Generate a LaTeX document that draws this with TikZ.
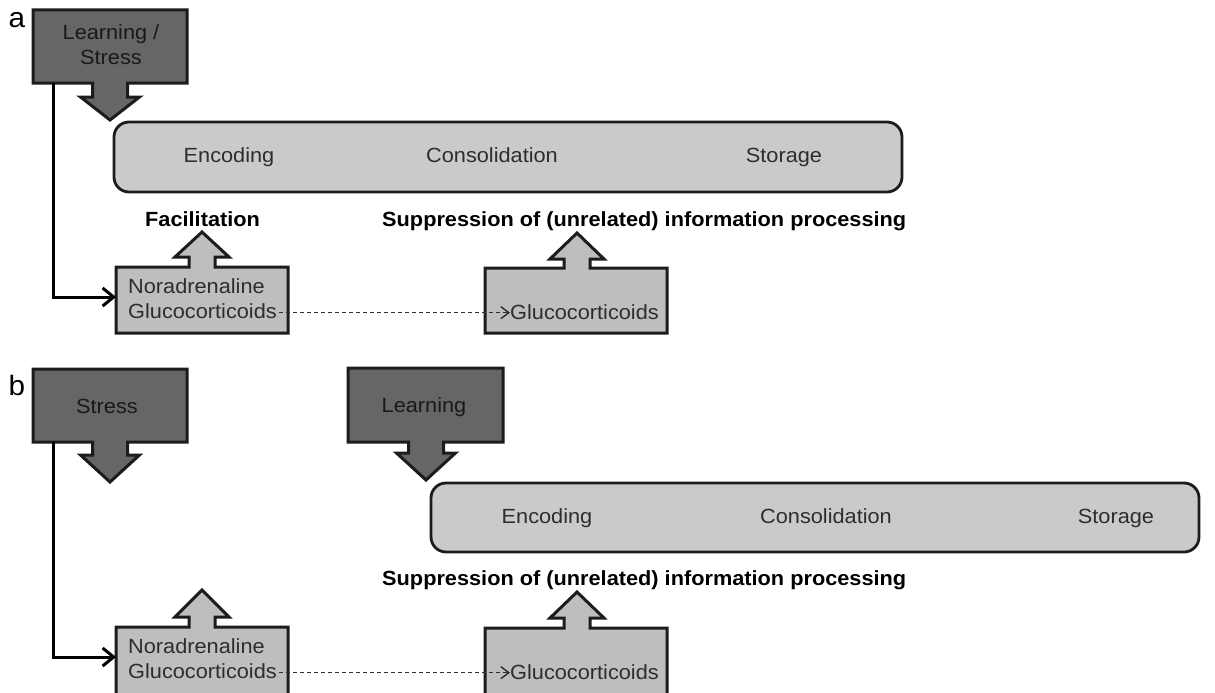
\documentclass[tikz,border=0pt]{standalone}
\usepackage{fontspec}
\setmainfont[FakeStretch=1.06]{Liberation Sans}
\usetikzlibrary{arrows.meta}
\definecolor{darkfill}{RGB}{102,102,102}
\definecolor{lightfill}{RGB}{190,190,190}
\definecolor{mainfill}{RGB}{202,202,202}
\definecolor{edgecol}{RGB}{28,28,28}
\definecolor{txtcol}{RGB}{45,45,45}
\tikzset{
  darkbox/.style={fill=darkfill, draw=edgecol, line width=3pt, line join=miter},
  lightbox/.style={fill=lightfill, draw=edgecol, line width=3pt, line join=miter},
  mainbox/.style={fill=mainfill, draw=edgecol, line width=2.8pt, rounded corners=15pt},
  region/.style={draw=none, inner sep=0pt, outer sep=0pt},
  txt/.style={font=\fontsize{20.5}{25}\selectfont, text=txtcol, inner sep=0pt},
  btxt/.style={font=\bfseries\fontsize{20.5}{25}\selectfont, text=black, inner sep=0pt},
  lbl/.style={font=\fontsize{28}{30}\selectfont, text=black, inner sep=0pt},
  solidconn/.style={line width=3pt, draw=black, -{Straight Barb[length=11pt, width=18pt, line width=3pt]}},
  dashconn/.style={draw=txtcol, line width=1.4pt, dash pattern=on 4pt off 3pt, -{Straight Barb[length=8pt, width=12pt, line width=1.4pt]}},
}
% down callout: x1 y1 x2 y2 cx base tip style
\newcommand\calldown[8]{%
  \path[#8] (#1,#2) -- (#3,#2) -- (#3,#4) -- ({#5+17.5},#4) -- ({#5+17.5},#6) -- ({#5+29.5},#6)
    -- (#5,#7) -- ({#5-29.5},#6) -- ({#5-17.5},#6) -- ({#5-17.5},#4) -- (#1,#4) -- cycle;}
% up callout: x1 y1 x2 y2 cx base tip style
\newcommand\callup[8]{%
  \path[#8] (#1,#4) -- (#3,#4) -- (#3,#2) -- ({#5+13},#2) -- ({#5+13},#6) -- ({#5+27},#6)
    -- (#5,#7) -- ({#5-27},#6) -- ({#5-13},#6) -- ({#5-13},#2) -- (#1,#2) -- cycle;}
\begin{document}
\begin{tikzpicture}[x=1pt, y=-1pt]
\useasboundingbox (0,0) rectangle (1215,693);
\clip (0,0) rectangle (1215,693);

% ---------------- panel a ----------------
\node[lbl, anchor=base] (la) at (17,28) {a};
\calldown{33}{10}{187}{83}{110}{97}{120}{darkbox}
\node[region, minimum width=154pt, minimum height=73pt] (ls) at (110,46.5) {};
\node[txt, text=black!90, anchor=base] (lsA) at (111,40) {Learning /};
\node[txt, text=black!90, anchor=base] (lsB) at (111,65) {Stress};

\path[mainbox] (114,122) rectangle (902,192);
\node[region, minimum width=788pt, minimum height=70pt] (ma) at (508,157) {};
\node[txt, anchor=base] (encA) at (229,162) {Encoding};
\node[txt, anchor=base] (conA) at (492,162) {Consolidation};
\node[txt, anchor=base] (stoA) at (784,162) {Storage};

\node[btxt, anchor=base west] (facA) at (145,226) {Facilitation};
\node[btxt, anchor=base west] (supA) at (382,226) {Suppression of (unrelated) information processing};

\callup{116}{267}{288}{333}{202}{257}{232}{lightbox}
\node[region, minimum width=172pt, minimum height=66pt] (naA) at (202,300) {};
\node[txt, anchor=base west] (norA) at (128,293) {Noradrenaline};
\node[txt, anchor=base west] (gluA) at (128,318) {Glucocorticoids};

\callup{485}{268}{667}{333}{577}{259}{233}{lightbox}
\node[region, minimum width=182pt, minimum height=65pt] (gA) at (576,300.5) {};
\node[txt, anchor=base west] (gtA) at (510,319) {Glucocorticoids};

\draw[solidconn] ([xshift=20pt]ls.south west) |- ([yshift=3pt]naA.west);
\draw[dashconn] ([xshift=2pt, yshift=-2pt]gluA.east) -- ([yshift=-2pt]gluA.east -| gtA.west);

% ---------------- panel b ----------------
\node[lbl, anchor=base] (lb) at (17,395) {b};
\calldown{33}{369}{187}{442}{110}{455}{482}{darkbox}
\node[region, minimum width=154pt, minimum height=73pt] (st) at (110,405.5) {};
\node[txt, text=black!90, anchor=base] (stT) at (107,413) {Stress};

\calldown{348}{368}{503}{442}{426}{453}{480}{darkbox}
\node[region, minimum width=155pt, minimum height=74pt] (le) at (425.5,405) {};
\node[txt, text=black!90, anchor=base] (leT) at (424,412) {Learning};

\path[mainbox] (431,483) rectangle (1199,552);
\node[region, minimum width=768pt, minimum height=69pt] (mb) at (815,517.5) {};
\node[txt, anchor=base] (encB) at (547,523) {Encoding};
\node[txt, anchor=base] (conB) at (826,523) {Consolidation};
\node[txt, anchor=base] (stoB) at (1116,523) {Storage};

\node[btxt, anchor=base west] (supB) at (382,585) {Suppression of (unrelated) information processing};

\callup{116}{627}{288}{705}{202}{617}{590}{lightbox}
\node[region, minimum width=172pt, minimum height=66pt] (naB) at (202,660) {};
\node[txt, anchor=base west] (norB) at (128,653) {Noradrenaline};
\node[txt, anchor=base west] (gluB) at (128,678) {Glucocorticoids};

\callup{485}{628}{667}{705}{577}{618}{592}{lightbox}
\node[region, minimum width=182pt, minimum height=65pt] (gB) at (576,660.5) {};
\node[txt, anchor=base west] (gtB) at (510,679) {Glucocorticoids};

\draw[solidconn] ([xshift=20pt]st.south west) |- ([yshift=3pt]naB.west);
\draw[dashconn] ([xshift=2pt, yshift=-2pt]gluB.east) -- ([yshift=-2pt]gluB.east -| gtB.west);
\end{tikzpicture}
\end{document}
